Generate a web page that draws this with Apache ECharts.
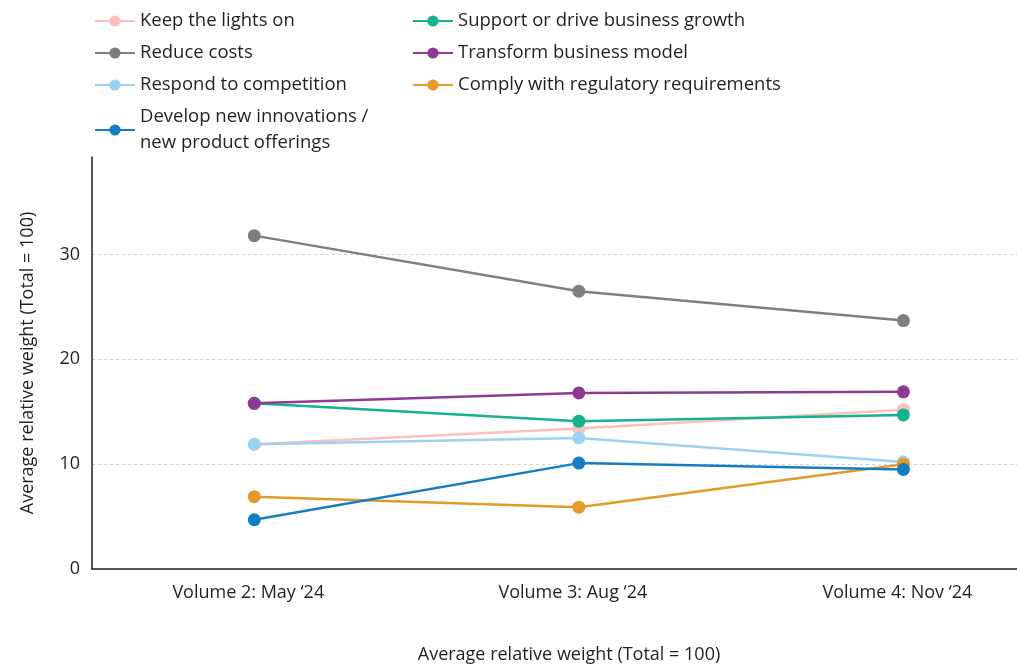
<!DOCTYPE html>
<html><head><meta charset="utf-8">
<script src="https://cdn.jsdelivr.net/npm/echarts@6/dist/echarts.min.js"></script>
<style>html,body{margin:0;padding:0;background:#fff}#c{width:1017px;height:669px}</style>
</head><body><div id="c"></div>
<script>
const categories = ["Volume 2: May \u201824", "Volume 3: Aug \u201824", "Volume 4: Nov \u201824"];
const keepLightsOn = [11.9, 13.4, 15.2];
const reduceCosts = [31.8, 26.5, 23.7];
const respondCompetition = [11.9, 12.5, 10.2];
const supportGrowth = [15.8, 14.1, 14.7];
const transformModel = [15.8, 16.8, 16.9];
const complyRegulatory = [6.9, 5.9, 10.0];
const developInnovations = [4.7, 10.1, 9.5];
const yTicks = [0, 10, 20, 30];

const font = 'Open Sans';
const mk = (name, data, color) => ({
  name, type: 'line', data: data.map((v, i) => [i, v]), color,
  symbol: 'circle', symbolSize: 13,
  lineStyle: { width: 2.5, color },
  itemStyle: { color },
  emphasis: { disabled: true }
});
const series = [
  mk('Keep the lights on', keepLightsOn, '#f9c1b9'),
  mk('Reduce costs', reduceCosts, '#7f7f7f'),
  mk('Respond to competition', respondCompetition, '#9dd1f1'),
  mk('Support or drive business growth', supportGrowth, '#13b18d'),
  mk('Transform business model', transformModel, '#8f3995'),
  mk('Comply with regulatory requirements', complyRegulatory, '#e39a27'),
  mk('Develop new innovations /\nnew product offerings', developInnovations, '#147cc2')
];
const legendCommon = {
  orient: 'vertical', itemWidth: 40, itemHeight: 14, itemGap: 6,
  textStyle: { fontFamily: font, fontSize: 18.5, color: '#231f20', lineHeight: 26 }
};
const chart = echarts.init(document.getElementById('c'), null, { renderer: 'canvas' });
chart.setOption({
  animation: false,
  backgroundColor: '#fff',
  legend: [
    Object.assign({}, legendCommon, { left: 89, top: 3, data: ['Keep the lights on', 'Reduce costs', 'Respond to competition', 'Develop new innovations /\nnew product offerings'] }),
    Object.assign({}, legendCommon, { left: 407, top: 3, data: ['Support or drive business growth', 'Transform business model', 'Comply with regulatory requirements'] })
  ],
  grid: { left: 92, top: 157, right: 0, bottom: 99, containLabel: false },
  xAxis: {
    type: 'value', min: -0.5, max: 2.35,
    axisLine: { show: true, onZero: false, lineStyle: { color: '#231f20', width: 1.5 } },
    axisTick: { show: false },
    splitLine: { show: false },
    axisLabel: { fontFamily: font, fontSize: 18, color: '#231f20', margin: 15, padding: [0, 12, 0, 0],
      customValues: [0, 1, 2],
      formatter: v => categories[Math.round(v)] !== undefined && Math.abs(v - Math.round(v)) < 1e-6 ? categories[Math.round(v)] : '' },
    name: 'Average relative weight (Total = 100)', nameLocation: 'middle', nameGap: 77,
    nameTextStyle: { fontFamily: font, fontSize: 18, color: '#231f20', padding: [0, 0, 0, 29] }
  },
  yAxis: {
    type: 'value', min: 0, max: 39.3, interval: 10,
    axisLine: { show: true, onZero: false, lineStyle: { color: '#231f20', width: 1.5 } },
    axisTick: { show: false },
    axisLabel: { fontFamily: font, fontSize: 18, color: '#231f20', margin: 12, showMaxLabel: false,
      formatter: v => yTicks.includes(v) ? String(v) : '' },
    splitLine: { show: true, showMinLine: false, showMaxLine: false, lineStyle: { color: '#d0d0d0', type: [3, 3], width: 1 } },
    name: 'Average relative weight (Total = 100)', nameLocation: 'middle', nameGap: 55,
    nameTextStyle: { fontFamily: font, fontSize: 18, color: '#231f20' }
  },
  series
});
</script></body></html>
